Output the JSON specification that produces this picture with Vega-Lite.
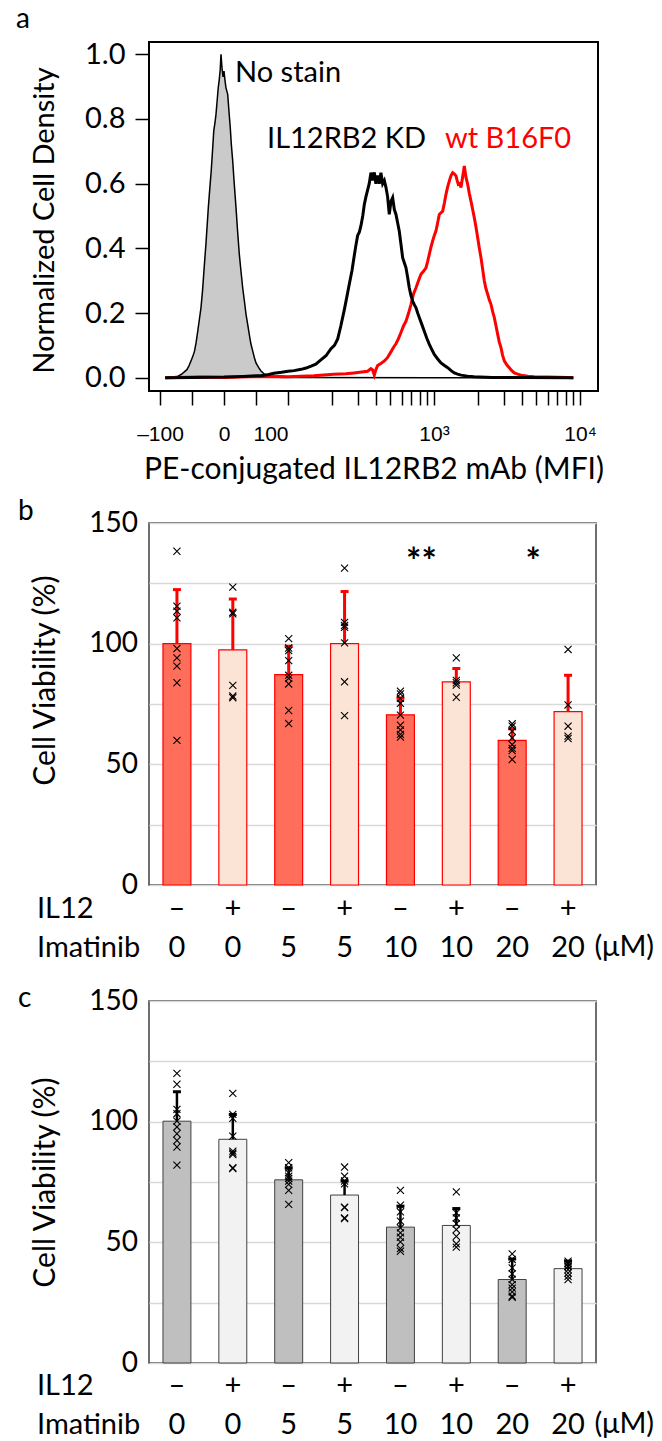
{
"$schema": "https://vega.github.io/schema/vega-lite/v6.json",
"background": "white",
"padding": {"left": 15, "top": 5, "right": 2, "bottom": 2},
"config": {"font": "Lato", "axis": {"labelFont": "Lato", "titleFont": "Lato", "labelColor": "black", "titleColor": "black", "titleFontWeight": "normal"}, "title": {"font": "Lato", "fontWeight": "normal", "color": "black"}},
"datasets": {
"histo": [
{"s":"NS","mfi":-92,"dens":0},{"s":"NS","mfi":-80,"dens":0.002},{"s":"NS","mfi":-72,"dens":0.005},{"s":"NS","mfi":-67,"dens":0.01},{"s":"NS","mfi":-62,"dens":0.018},{"s":"NS","mfi":-58,"dens":0.025},{"s":"NS","mfi":-55,"dens":0.036},{"s":"NS","mfi":-51,"dens":0.055},{"s":"NS","mfi":-48,"dens":0.07},{"s":"NS","mfi":-46,"dens":0.083},{"s":"NS","mfi":-43.5,"dens":0.11},{"s":"NS","mfi":-41,"dens":0.144},{"s":"NS","mfi":-38.5,"dens":0.18},{"s":"NS","mfi":-36,"dens":0.216},{"s":"NS","mfi":-33.5,"dens":0.27},{"s":"NS","mfi":-31,"dens":0.34},{"s":"NS","mfi":-28,"dens":0.42},{"s":"NS","mfi":-24.5,"dens":0.526},{"s":"NS","mfi":-22,"dens":0.59},{"s":"NS","mfi":-20,"dens":0.639},{"s":"NS","mfi":-18,"dens":0.7},{"s":"NS","mfi":-16,"dens":0.763},{"s":"NS","mfi":-14,"dens":0.79},{"s":"NS","mfi":-12.5,"dens":0.815},{"s":"NS","mfi":-11,"dens":0.85},{"s":"NS","mfi":-9,"dens":0.897},{"s":"NS","mfi":-7.5,"dens":0.92},{"s":"NS","mfi":-6,"dens":0.95},{"s":"NS","mfi":-4.7,"dens":1.0},{"s":"NS","mfi":-3,"dens":0.955},{"s":"NS","mfi":-1.5,"dens":0.93},{"s":"NS","mfi":0,"dens":0.948},{"s":"NS","mfi":1.5,"dens":0.92},{"s":"NS","mfi":3,"dens":0.897},{"s":"NS","mfi":5.8,"dens":0.876},{"s":"NS","mfi":7.5,"dens":0.83},{"s":"NS","mfi":9.8,"dens":0.773},{"s":"NS","mfi":11.5,"dens":0.72},{"s":"NS","mfi":13.6,"dens":0.67},{"s":"NS","mfi":16,"dens":0.6},{"s":"NS","mfi":18.75,"dens":0.526},{"s":"NS","mfi":21,"dens":0.46},{"s":"NS","mfi":23.9,"dens":0.382},{"s":"NS","mfi":26.5,"dens":0.33},{"s":"NS","mfi":29.2,"dens":0.278},{"s":"NS","mfi":32,"dens":0.235},{"s":"NS","mfi":34.4,"dens":0.196},{"s":"NS","mfi":37,"dens":0.165},{"s":"NS","mfi":39.5,"dens":0.134},{"s":"NS","mfi":42,"dens":0.105},{"s":"NS","mfi":44.8,"dens":0.083},{"s":"NS","mfi":47.5,"dens":0.062},{"s":"NS","mfi":50,"dens":0.046},{"s":"NS","mfi":54,"dens":0.032},{"s":"NS","mfi":57.8,"dens":0.021},{"s":"NS","mfi":62,"dens":0.013},{"s":"NS","mfi":65.6,"dens":0.008},{"s":"NS","mfi":72,"dens":0.004},{"s":"NS","mfi":80,"dens":0.002},{"s":"NS","mfi":90,"dens":0.001},{"s":"NS","mfi":100,"dens":0.001},{"s":"NS","mfi":1000,"dens":0},{"s":"NS","mfi":9000,"dens":0},
{"s":"KD","mfi":-92,"dens":0},{"s":"KD","mfi":-50,"dens":0.001},{"s":"KD","mfi":0,"dens":0.002},{"s":"KD","mfi":30,"dens":0.004},{"s":"KD","mfi":50,"dens":0.006},{"s":"KD","mfi":58,"dens":0.006},{"s":"KD","mfi":70,"dens":0.01},{"s":"KD","mfi":78,"dens":0.014},{"s":"KD","mfi":90,"dens":0.017},{"s":"KD","mfi":100,"dens":0.02},{"s":"KD","mfi":110,"dens":0.022},{"s":"KD","mfi":123,"dens":0.026},{"s":"KD","mfi":133,"dens":0.03},{"s":"KD","mfi":144,"dens":0.036},{"s":"KD","mfi":155,"dens":0.042},{"s":"KD","mfi":168,"dens":0.055},{"s":"KD","mfi":182,"dens":0.068},{"s":"KD","mfi":197,"dens":0.09},{"s":"KD","mfi":208,"dens":0.1},{"s":"KD","mfi":219,"dens":0.12},{"s":"KD","mfi":230,"dens":0.16},{"s":"KD","mfi":243,"dens":0.21},{"s":"KD","mfi":253,"dens":0.25},{"s":"KD","mfi":263,"dens":0.29},{"s":"KD","mfi":274,"dens":0.33},{"s":"KD","mfi":285,"dens":0.38},{"s":"KD","mfi":292,"dens":0.41},{"s":"KD","mfi":300,"dens":0.44},{"s":"KD","mfi":308,"dens":0.45},{"s":"KD","mfi":316,"dens":0.47},{"s":"KD","mfi":325,"dens":0.5},{"s":"KD","mfi":333,"dens":0.535},{"s":"KD","mfi":342,"dens":0.56},{"s":"KD","mfi":351,"dens":0.58},{"s":"KD","mfi":360,"dens":0.6},{"s":"KD","mfi":370,"dens":0.634},{"s":"KD","mfi":380,"dens":0.61},{"s":"KD","mfi":390,"dens":0.635},{"s":"KD","mfi":400,"dens":0.6},{"s":"KD","mfi":411,"dens":0.625},{"s":"KD","mfi":422,"dens":0.6},{"s":"KD","mfi":433,"dens":0.634},{"s":"KD","mfi":445,"dens":0.6},{"s":"KD","mfi":457,"dens":0.61},{"s":"KD","mfi":469,"dens":0.588},{"s":"KD","mfi":481,"dens":0.56},{"s":"KD","mfi":494,"dens":0.505},{"s":"KD","mfi":507,"dens":0.545},{"s":"KD","mfi":521,"dens":0.557},{"s":"KD","mfi":535,"dens":0.52},{"s":"KD","mfi":549,"dens":0.505},{"s":"KD","mfi":563,"dens":0.48},{"s":"KD","mfi":578,"dens":0.454},{"s":"KD","mfi":595,"dens":0.41},{"s":"KD","mfi":610,"dens":0.371},{"s":"KD","mfi":627,"dens":0.355},{"s":"KD","mfi":643,"dens":0.34},{"s":"KD","mfi":660,"dens":0.31},{"s":"KD","mfi":677,"dens":0.278},{"s":"KD","mfi":695,"dens":0.255},{"s":"KD","mfi":714,"dens":0.237},{"s":"KD","mfi":733,"dens":0.226},{"s":"KD","mfi":753,"dens":0.216},{"s":"KD","mfi":773,"dens":0.2},{"s":"KD","mfi":793,"dens":0.186},{"s":"KD","mfi":825,"dens":0.165},{"s":"KD","mfi":858,"dens":0.144},{"s":"KD","mfi":893,"dens":0.122},{"s":"KD","mfi":929,"dens":0.103},{"s":"KD","mfi":967,"dens":0.087},{"s":"KD","mfi":1005,"dens":0.072},{"s":"KD","mfi":1060,"dens":0.058},{"s":"KD","mfi":1117,"dens":0.046},{"s":"KD","mfi":1180,"dens":0.038},{"s":"KD","mfi":1241,"dens":0.031},{"s":"KD","mfi":1310,"dens":0.022},{"s":"KD","mfi":1377,"dens":0.015},{"s":"KD","mfi":1450,"dens":0.011},{"s":"KD","mfi":1531,"dens":0.008},{"s":"KD","mfi":1700,"dens":0.005},{"s":"KD","mfi":1879,"dens":0.003},{"s":"KD","mfi":2500,"dens":0.001},{"s":"KD","mfi":4000,"dens":0.001},{"s":"KD","mfi":9000,"dens":0},
{"s":"WT","mfi":-92,"dens":0},{"s":"WT","mfi":-40,"dens":0.002},{"s":"WT","mfi":0,"dens":0.001},{"s":"WT","mfi":40,"dens":0.003},{"s":"WT","mfi":89,"dens":0.004},{"s":"WT","mfi":100,"dens":0.003},{"s":"WT","mfi":150,"dens":0.006},{"s":"WT","mfi":206,"dens":0.011},{"s":"WT","mfi":250,"dens":0.012},{"s":"WT","mfi":283,"dens":0.015},{"s":"WT","mfi":320,"dens":0.018},{"s":"WT","mfi":351,"dens":0.02},{"s":"WT","mfi":370,"dens":0.028},{"s":"WT","mfi":380,"dens":0.024},{"s":"WT","mfi":390,"dens":0.008},{"s":"WT","mfi":400,"dens":0.025},{"s":"WT","mfi":411,"dens":0.038},{"s":"WT","mfi":435,"dens":0.045},{"s":"WT","mfi":457,"dens":0.052},{"s":"WT","mfi":480,"dens":0.062},{"s":"WT","mfi":507,"dens":0.08},{"s":"WT","mfi":530,"dens":0.095},{"s":"WT","mfi":549,"dens":0.105},{"s":"WT","mfi":570,"dens":0.12},{"s":"WT","mfi":594,"dens":0.14},{"s":"WT","mfi":618,"dens":0.16},{"s":"WT","mfi":643,"dens":0.175},{"s":"WT","mfi":670,"dens":0.2},{"s":"WT","mfi":696,"dens":0.227},{"s":"WT","mfi":725,"dens":0.26},{"s":"WT","mfi":753,"dens":0.278},{"s":"WT","mfi":783,"dens":0.3},{"s":"WT","mfi":814,"dens":0.32},{"s":"WT","mfi":850,"dens":0.33},{"s":"WT","mfi":881,"dens":0.34},{"s":"WT","mfi":905,"dens":0.36},{"s":"WT","mfi":929,"dens":0.382},{"s":"WT","mfi":955,"dens":0.405},{"s":"WT","mfi":979,"dens":0.423},{"s":"WT","mfi":1005,"dens":0.44},{"s":"WT","mfi":1032,"dens":0.454},{"s":"WT","mfi":1060,"dens":0.48},{"s":"WT","mfi":1087,"dens":0.505},{"s":"WT","mfi":1117,"dens":0.51},{"s":"WT","mfi":1147,"dens":0.515},{"s":"WT","mfi":1178,"dens":0.54},{"s":"WT","mfi":1208,"dens":0.567},{"s":"WT","mfi":1240,"dens":0.59},{"s":"WT","mfi":1273,"dens":0.608},{"s":"WT","mfi":1308,"dens":0.625},{"s":"WT","mfi":1343,"dens":0.634},{"s":"WT","mfi":1380,"dens":0.63},{"s":"WT","mfi":1415,"dens":0.624},{"s":"WT","mfi":1440,"dens":0.61},{"s":"WT","mfi":1467,"dens":0.598},{"s":"WT","mfi":1500,"dens":0.6},{"s":"WT","mfi":1531,"dens":0.588},{"s":"WT","mfi":1570,"dens":0.62},{"s":"WT","mfi":1613,"dens":0.655},{"s":"WT","mfi":1655,"dens":0.62},{"s":"WT","mfi":1701,"dens":0.598},{"s":"WT","mfi":1745,"dens":0.57},{"s":"WT","mfi":1792,"dens":0.546},{"s":"WT","mfi":1840,"dens":0.52},{"s":"WT","mfi":1888,"dens":0.495},{"s":"WT","mfi":1940,"dens":0.465},{"s":"WT","mfi":1992,"dens":0.433},{"s":"WT","mfi":2045,"dens":0.4},{"s":"WT","mfi":2099,"dens":0.371},{"s":"WT","mfi":2155,"dens":0.335},{"s":"WT","mfi":2211,"dens":0.299},{"s":"WT","mfi":2270,"dens":0.275},{"s":"WT","mfi":2332,"dens":0.258},{"s":"WT","mfi":2395,"dens":0.24},{"s":"WT","mfi":2457,"dens":0.227},{"s":"WT","mfi":2520,"dens":0.205},{"s":"WT","mfi":2589,"dens":0.186},{"s":"WT","mfi":2660,"dens":0.16},{"s":"WT","mfi":2731,"dens":0.134},{"s":"WT","mfi":2800,"dens":0.11},{"s":"WT","mfi":2877,"dens":0.093},{"s":"WT","mfi":2950,"dens":0.07},{"s":"WT","mfi":3031,"dens":0.052},{"s":"WT","mfi":3150,"dens":0.04},{"s":"WT","mfi":3280,"dens":0.031},{"s":"WT","mfi":3410,"dens":0.022},{"s":"WT","mfi":3548,"dens":0.015},{"s":"WT","mfi":3750,"dens":0.011},{"s":"WT","mfi":3945,"dens":0.008},{"s":"WT","mfi":4400,"dens":0.005},{"s":"WT","mfi":4865,"dens":0.003},{"s":"WT","mfi":6000,"dens":0.002},{"s":"WT","mfi":8240,"dens":0.001},{"s":"WT","mfi":9000,"dens":0}
],
"annoL": [{"mfi": 17.2, "dens": 0.914, "label": "No stain"}, {"mfi": 67.2, "dens": 0.71, "label": "IL12RB2 KD"}],
"annoR": [{"mfi": 1189, "dens": 0.71, "label": "wt B16F0"}],
"barsB": [
{"cond":"–|0","il12":"–","mean":100,"upper":122.4},{"cond":"+|0","il12":"+","mean":97.4,"upper":118.5},{"cond":"–|5","il12":"–","mean":87.2,"upper":98.9},{"cond":"+|5","il12":"+","mean":100,"upper":121.6},{"cond":"–|10","il12":"–","mean":70.5,"upper":77.5},{"cond":"+|10","il12":"+","mean":84.2,"upper":89.7},{"cond":"–|20","il12":"–","mean":59.9,"upper":64.7},{"cond":"+|20","il12":"+","mean":71.8,"upper":86.9}
],
"ptsB": [
{"cond":"–|0","v":138.3},{"cond":"–|0","v":115.5},{"cond":"–|0","v":113.5},{"cond":"–|0","v":110.7},{"cond":"–|0","v":98.0},{"cond":"–|0","v":94.1},{"cond":"–|0","v":90.7},{"cond":"–|0","v":83.8},{"cond":"–|0","v":59.9},
{"cond":"+|0","v":123.4},{"cond":"+|0","v":113.0},{"cond":"+|0","v":112.4},{"cond":"+|0","v":82.7},{"cond":"+|0","v":78.3},{"cond":"+|0","v":77.6},
{"cond":"–|5","v":102.1},{"cond":"–|5","v":98.2},{"cond":"–|5","v":97.1},{"cond":"–|5","v":93.0},{"cond":"–|5","v":86.9},{"cond":"–|5","v":85.6},{"cond":"–|5","v":83.3},{"cond":"–|5","v":72.3},{"cond":"–|5","v":66.9},
{"cond":"+|5","v":131.3},{"cond":"+|5","v":108.8},{"cond":"+|5","v":107.6},{"cond":"+|5","v":106.8},{"cond":"+|5","v":100.3},{"cond":"+|5","v":84.2},{"cond":"+|5","v":70.2},
{"cond":"–|10","v":80.3},{"cond":"–|10","v":79.2},{"cond":"–|10","v":77.3},{"cond":"–|10","v":75.3},{"cond":"–|10","v":70.4},{"cond":"–|10","v":66.2},{"cond":"–|10","v":64.3},{"cond":"–|10","v":62.4},{"cond":"–|10","v":61.3},
{"cond":"+|10","v":94.1},{"cond":"+|10","v":84.8},{"cond":"+|10","v":83.8},{"cond":"+|10","v":82.8},{"cond":"+|10","v":77.8},
{"cond":"–|20","v":66.8},{"cond":"–|20","v":65.8},{"cond":"–|20","v":63.7},{"cond":"–|20","v":61.0},{"cond":"–|20","v":58.2},{"cond":"–|20","v":56.6},{"cond":"–|20","v":55.7},{"cond":"–|20","v":52.0},
{"cond":"+|20","v":97.6},{"cond":"+|20","v":74.6},{"cond":"+|20","v":65.8},{"cond":"+|20","v":61.7},{"cond":"+|20","v":60.7}
],
"sigB": [{"cond":"–|10","sig":"**"},{"cond":"–|20","sig":"*"}],
"barsC": [
{"cond":"–|0","il12":"–","mean":100.2,"upper":112.4},{"cond":"+|0","il12":"+","mean":92.7,"upper":103.0},{"cond":"–|5","il12":"–","mean":75.9,"upper":80.9},{"cond":"+|5","il12":"+","mean":69.6,"upper":75.4},{"cond":"–|10","il12":"–","mean":56.3,"upper":65.0},{"cond":"+|10","il12":"+","mean":57.0,"upper":64.0},{"cond":"–|20","il12":"–","mean":34.6,"upper":43.1},{"cond":"+|20","il12":"+","mean":39.1,"upper":42.2}
],
"ptsC": [
{"cond":"–|0","v":120.0},{"cond":"–|0","v":115.5},{"cond":"–|0","v":105.1},{"cond":"–|0","v":103.3},{"cond":"–|0","v":100.2},{"cond":"–|0","v":97.8},{"cond":"–|0","v":95.0},{"cond":"–|0","v":92.2},{"cond":"–|0","v":89.5},{"cond":"–|0","v":82.0},
{"cond":"+|0","v":111.7},{"cond":"+|0","v":103.0},{"cond":"+|0","v":101.4},{"cond":"+|0","v":94.0},{"cond":"+|0","v":87.8},{"cond":"+|0","v":87.0},{"cond":"+|0","v":86.4},{"cond":"+|0","v":80.9},{"cond":"+|0","v":80.6},
{"cond":"–|5","v":83.0},{"cond":"–|5","v":80.9},{"cond":"–|5","v":78.8},{"cond":"–|5","v":77.4},{"cond":"–|5","v":76.5},{"cond":"–|5","v":75.4},{"cond":"–|5","v":74.0},{"cond":"–|5","v":71.5},{"cond":"–|5","v":65.7},
{"cond":"+|5","v":81.2},{"cond":"+|5","v":77.4},{"cond":"+|5","v":75.4},{"cond":"+|5","v":74.2},{"cond":"+|5","v":64.6},{"cond":"+|5","v":64.4},{"cond":"+|5","v":60.1},{"cond":"+|5","v":59.8},
{"cond":"–|10","v":71.5},{"cond":"–|10","v":65.4},{"cond":"–|10","v":62.6},{"cond":"–|10","v":58.8},{"cond":"–|10","v":56.0},{"cond":"–|10","v":53.9},{"cond":"–|10","v":52.1},{"cond":"–|10","v":50.2},{"cond":"–|10","v":47.4},{"cond":"–|10","v":46.3},
{"cond":"+|10","v":70.9},{"cond":"+|10","v":62.2},{"cond":"+|10","v":60.1},{"cond":"+|10","v":57.7},{"cond":"+|10","v":55.3},{"cond":"+|10","v":52.5},{"cond":"+|10","v":49.4},{"cond":"+|10","v":48.0},
{"cond":"–|20","v":45.2},{"cond":"–|20","v":42.9},{"cond":"–|20","v":39.4},{"cond":"–|20","v":36.9},{"cond":"–|20","v":34.6},{"cond":"–|20","v":32.5},{"cond":"–|20","v":31.0},{"cond":"–|20","v":29.5},{"cond":"–|20","v":27.7},{"cond":"–|20","v":27.2},
{"cond":"+|20","v":42.2},{"cond":"+|20","v":41.5},{"cond":"+|20","v":41.1},{"cond":"+|20","v":40.1},{"cond":"+|20","v":40.0},{"cond":"+|20","v":38.7},{"cond":"+|20","v":37.3},{"cond":"+|20","v":35.9},{"cond":"+|20","v":34.6}
]
},
"spacing": 132,
"bounds": "flush",
"vconcat": [
{
"width": 449, "height": 349,
"view": {"stroke": "black", "strokeWidth": 2},
"title": {"text": "a", "anchor": "start", "frame": "group", "dx": -133, "fontSize": 28, "baseline": "alphabetic", "offset": -16},
"data": {"name": "histo"},
"encoding": {"y": {"field": "dens", "type": "quantitative", "title": "Normalized Cell Density", "scale": {"domain": [-0.041, 1.038], "nice": false},
  "axis": {"values": [0, 0.2, 0.4, 0.6, 0.8, 1], "format": ".1f", "grid": false, "domain": false, "tickSize": 14, "tickWidth": 1.5, "tickColor": "black", "labelFontSize": 29, "labelPadding": 10, "titleFontSize": 29, "titleX": -104.5, "titleY": 178, "titleBaseline": "middle"}}},
"resolve": {"scale": {"x": "independent"}, "axis": {"x": "independent"}},
"layer": [
 {"data": {"values": [{}]}, "mark": {"type": "rule", "color": "#c8c8c8", "strokeWidth": 1}, "encoding": {"y": {"datum": 0}}},
 {"encoding": {"x": {"field": "mfi", "type": "quantitative", "scale": {"type": "linear", "domain": [-117.2, 100], "range": [0, 139], "nice": false, "zero": false},
    "axis": {"orient": "bottom", "values": [-100, -50, 0, 50, 100], "labelExpr": "datum.value == -100 ? '–100' : (datum.value == 0 ? '0' : (datum.value == 100 ? '100' : ''))", "title": "PE-conjugated IL12RB2 mAb (MFI)", "titleX": 224.5, "titleY": 87, "titleBaseline": "alphabetic", "titleAlign": "center", "titleFontSize": 30, "domain": false, "grid": false, "tickSize": 14, "tickWidth": 1.5, "tickColor": "black", "labelFont": "Liberation Sans", "labelFontSize": 21, "labelBaseline": "alphabetic", "labelPadding": 35}}},
  "layer": [
   {"transform": [{"filter": "datum.s == 'NS' && datum.mfi <= 100"}], "mark": {"type": "area", "color": "#b3b3b3", "line": {"color": "black", "strokeWidth": 1.5}}, "encoding": {"y2": {"datum": 0}}},
   {"transform": [{"filter": "datum.s == 'WT' && datum.mfi <= 100"}], "mark": {"type": "line", "color": "#ff0000", "strokeWidth": 3}},
   {"transform": [{"filter": "datum.s == 'KD' && datum.mfi <= 100"}], "mark": {"type": "line", "color": "black", "strokeWidth": 3}},
   {"data": {"name": "annoL"}, "mark": {"type": "text", "align": "left", "baseline": "alphabetic", "fontSize": 29, "color": "black"}, "encoding": {"text": {"field": "label"}}}
  ]},
 {"encoding": {"x": {"field": "mfi", "type": "quantitative", "scale": {"type": "log", "domain": [100, 13284], "range": [139, 449], "nice": false},
    "axis": {"orient": "bottom", "values": [200, 300, 400, 500, 600, 700, 800, 900, 1000, 2000, 3000, 4000, 5000, 6000, 7000, 8000, 9000, 10000], "labelExpr": "datum.value == 1000 ? '10³' : (datum.value == 10000 ? '10⁴' : '')", "title": null, "domain": false, "grid": false, "tickSize": 14, "tickWidth": 1.5, "tickColor": "black", "labelFont": "Liberation Sans", "labelFontSize": 21, "labelBaseline": "alphabetic", "labelPadding": 35}}},
  "layer": [
   {"transform": [{"filter": "datum.s == 'NS' && datum.mfi >= 100"}], "mark": {"type": "line", "color": "black", "strokeWidth": 1.5}},
   {"transform": [{"filter": "datum.s == 'WT' && datum.mfi >= 100"}], "mark": {"type": "line", "color": "#ff0000", "strokeWidth": 3}},
   {"transform": [{"filter": "datum.s == 'KD' && datum.mfi >= 100"}], "mark": {"type": "line", "color": "black", "strokeWidth": 3}},
   {"data": {"name": "annoR"}, "mark": {"type": "text", "align": "left", "baseline": "alphabetic", "fontSize": 29, "color": "#ff0000"}, "encoding": {"text": {"field": "label"}}}
  ]}
]
},
{
"spacing": 116,
"bounds": "flush",
"resolve": {"scale": {"fill": "independent"}},
"vconcat": [
{
"width": 447, "height": 362,
"view": {"stroke": "#404040", "strokeWidth": 1.5},
"title": {"text": "b", "anchor": "start", "frame": "group", "dx": -131, "dy": 14, "fontSize": 28, "baseline": "alphabetic", "offset": -25},
"encoding": {"x": {"field": "cond", "type": "nominal", "scale": {"domain": ["–|0","+|0","–|5","+|5","–|10","+|10","–|20","+|20"], "paddingInner": 0.5, "paddingOuter": 0.25},
  "axis": {"orient": "bottom", "labelExpr": "split(datum.value, '|')", "labelAngle": 0, "labelFontSize": 29, "labelLineHeight": 39, "labelBaseline": "alphabetic", "labelPadding": 32, "ticks": false, "tickSize": 0, "domain": false, "grid": false,
   "title": ["IL12", "Imatinib"], "titleX": -112.5, "titleY": 32, "titleAlign": "left", "titleAnchor": "start", "titleBaseline": "alphabetic", "titleFontSize": 29, "titleLineHeight": 39, "titleAngle": 0}}},
"layer": [
 {"data": {"name": "barsB"}, "mark": {"type": "bar", "stroke": "#ff0000", "strokeWidth": 1.2},
  "encoding": {"y": {"field": "mean", "type": "quantitative", "title": "Cell Viability (%)", "scale": {"domain": [0, 150], "nice": false},
     "axis": {"values": [0, 25, 50, 75, 100, 125, 150], "labelExpr": "datum.value % 50 == 0 ? datum.label : ''", "grid": true, "gridColor": "#d9d9d9", "gridWidth": 1.5, "ticks": false, "tickSize": 0, "domain": false, "labelFontSize": 28, "labelPadding": 11.5, "titleFontSize": 30, "titleX": -104, "titleY": 157, "titleBaseline": "middle"}},
   "fill": {"field": "il12", "type": "nominal", "scale": {"domain": ["–", "+"], "range": ["#ff6e5a", "#fbe4d6"]}, "legend": null}}},
 {"data": {"name": "barsB"}, "mark": {"type": "rule", "color": "#ff0000", "strokeWidth": 3},
  "encoding": {"y": {"field": "mean", "type": "quantitative", "title": "Cell Viability (%)"}, "y2": {"field": "upper"}}},
 {"data": {"name": "barsB"}, "mark": {"type": "tick", "color": "#ff0000", "size": 8, "thickness": 3, "opacity": 1},
  "encoding": {"y": {"field": "upper", "type": "quantitative", "title": "Cell Viability (%)"}}},
 {"data": {"name": "ptsB"}, "mark": {"type": "point", "shape": "M-1,-1L1,1M-1,1L1,-1", "size": 50, "filled": false, "stroke": "black", "strokeWidth": 1.1, "opacity": 1},
  "encoding": {"y": {"field": "v", "type": "quantitative", "title": "Cell Viability (%)"}}},
 {"data": {"name": "sigB"}, "mark": {"type": "text", "fontSize": 36, "fontWeight": "bold", "align": "center", "baseline": "alphabetic", "color": "black"},
  "encoding": {"x": {"field": "cond", "type": "nominal", "bandPosition": 1.25}, "y": {"datum": 129}, "text": {"field": "sig"}}},
 {"data": {"values": [{"cond": "+|20", "t": "(μM)"}]}, "mark": {"type": "text", "fontSize": 29, "align": "left", "baseline": "alphabetic", "color": "black"},
  "encoding": {"x": {"field": "cond", "type": "nominal", "bandPosition": 1.45}, "y": {"datum": -29.4}, "text": {"field": "t"}}}
]
},
{
"width": 447, "height": 362,
"view": {"stroke": "#404040", "strokeWidth": 1.5},
"title": {"text": "c", "anchor": "start", "frame": "group", "dx": -131, "dy": 21, "fontSize": 28, "baseline": "alphabetic", "offset": -27},
"encoding": {"x": {"field": "cond", "type": "nominal", "scale": {"domain": ["–|0","+|0","–|5","+|5","–|10","+|10","–|20","+|20"], "paddingInner": 0.5, "paddingOuter": 0.25},
  "axis": {"orient": "bottom", "labelExpr": "split(datum.value, '|')", "labelAngle": 0, "labelFontSize": 29, "labelLineHeight": 39, "labelBaseline": "alphabetic", "labelPadding": 31, "ticks": false, "tickSize": 0, "domain": false, "grid": false,
   "title": ["IL12", "Imatinib"], "titleX": -112.5, "titleY": 31, "titleAlign": "left", "titleAnchor": "start", "titleBaseline": "alphabetic", "titleFontSize": 29, "titleLineHeight": 39, "titleAngle": 0}}},
"layer": [
 {"data": {"name": "barsC"}, "mark": {"type": "bar", "stroke": "#404040", "strokeWidth": 1},
  "encoding": {"y": {"field": "mean", "type": "quantitative", "title": "Cell Viability (%)", "scale": {"domain": [0, 150], "nice": false},
     "axis": {"values": [0, 25, 50, 75, 100, 125, 150], "labelExpr": "datum.value % 50 == 0 ? datum.label : ''", "grid": true, "gridColor": "#d9d9d9", "gridWidth": 1.5, "ticks": false, "tickSize": 0, "domain": false, "labelFontSize": 28, "labelPadding": 11.5, "titleFontSize": 30, "titleX": -104, "titleY": 181, "titleBaseline": "middle"}},
   "fill": {"field": "il12", "type": "nominal", "scale": {"domain": ["–", "+"], "range": ["#bfbfbf", "#f2f2f2"]}, "legend": null}}},
 {"data": {"name": "barsC"}, "mark": {"type": "rule", "color": "black", "strokeWidth": 2.5},
  "encoding": {"y": {"field": "mean", "type": "quantitative", "title": "Cell Viability (%)"}, "y2": {"field": "upper"}}},
 {"data": {"name": "barsC"}, "mark": {"type": "tick", "color": "black", "size": 8, "thickness": 3, "opacity": 1},
  "encoding": {"y": {"field": "upper", "type": "quantitative", "title": "Cell Viability (%)"}}},
 {"data": {"name": "ptsC"}, "mark": {"type": "point", "shape": "M-1,-1L1,1M-1,1L1,-1", "size": 50, "filled": false, "stroke": "black", "strokeWidth": 1.1, "opacity": 1},
  "encoding": {"y": {"field": "v", "type": "quantitative", "title": "Cell Viability (%)"}}},
 {"data": {"values": [{"cond": "+|20", "t": "(μM)"}]}, "mark": {"type": "text", "fontSize": 29, "align": "left", "baseline": "alphabetic", "color": "black"},
  "encoding": {"x": {"field": "cond", "type": "nominal", "bandPosition": 1.45}, "y": {"datum": -29}, "text": {"field": "t"}}}
]
}
]
}
]
}
